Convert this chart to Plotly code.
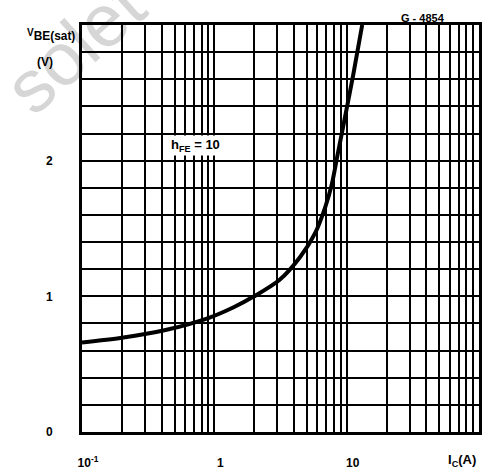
import plotly.graph_objects as go

# Collector current (A) and VBE(sat) (V)
ic = [0.1, 0.2, 0.42, 0.9, 1.4, 2.0, 3.1, 4.45, 5.8, 6.9, 7.7, 8.6, 9.4, 11.2, 13.1]
vbe = [0.66, 0.695, 0.75, 0.84, 0.92, 1.0, 1.12, 1.29, 1.47, 1.66, 1.82, 2.06, 2.25, 2.63, 3.0]

# log grid positions and labels
x_ticks = [m * d for d in (0.1, 1, 10) for m in range(1, 10)] + [100]
x_labels = ["10<sup>-1</sup>" if v == 0.1 else ("1" if v == 1 else ("10" if v == 10 else "")) for v in x_ticks]
y_ticks = [round(i * 0.2, 1) for i in range(16)]
y_labels = [str(int(v)) if v in (0, 1, 2) else "" for v in y_ticks]

FONT = "Liberation Sans"

fig = go.Figure()
fig.add_trace(go.Scatter(x=ic, y=vbe, mode="lines",
                         line=dict(color="black", width=4, shape="spline", smoothing=0.8),
                         hoverinfo="skip", showlegend=False))

fig.update_layout(
    width=492, height=475,
    margin=dict(l=82, r=13, t=25, b=43, autoexpand=False),
    paper_bgcolor="white", plot_bgcolor="white",
    font=dict(family=FONT, color="black"),
    xaxis=dict(type="log", range=[-1, 2], tickvals=x_ticks, ticktext=x_labels,
               showgrid=True, gridcolor="black", gridwidth=2,
               showline=True, linecolor="black", linewidth=3, mirror=True,
               ticks="", zeroline=False, ticklabelstandoff=18, ticklabelshift=6,
               automargin=False,
               tickfont=dict(family=FONT, size=12, color="black", weight="bold")),
    yaxis=dict(range=[0, 3], tickvals=y_ticks, ticktext=y_labels,
               showgrid=True, gridcolor="black", gridwidth=2,
               showline=True, linecolor="black", linewidth=3, mirror=True,
               ticks="", zeroline=False, ticklabelstandoff=24, automargin=False,
               tickfont=dict(family=FONT, size=12, color="black", weight="bold")),
    shapes=[dict(type="rect", xref="paper", yref="paper", x0=-0.30, x1=0.24, y0=0.82, y1=1.10,
                 line=dict(width=0), fillcolor="rgba(0,0,0,0)", layer="below",
                 label=dict(text="solet", textangle=-42, textposition="middle center",
                            font=dict(family=FONT, size=74, color="#d6d6d6")))],
    annotations=[
        dict(text="<b>G - 4854</b>", xref="paper", yref="paper", x=0.859, y=1.018,
             xanchor="center", yanchor="middle", showarrow=False, font=dict(size=11)),
        dict(text="<b><span style='font-size:10px'>V</span><sub>BE(sat)</sub></b>",
             xref="paper", yref="paper", x=-0.012, y=0.975,
             xanchor="right", yanchor="middle", showarrow=False, font=dict(size=17)),
        dict(text="<b>(V)</b>", xref="paper", yref="paper", x=-0.093, y=0.91,
             xanchor="center", yanchor="middle", showarrow=False, font=dict(size=12)),
        dict(text="<b>I<sub>C</sub>(A)</b>", xref="paper", yref="paper", x=0.957, y=-0.069,
             xanchor="center", yanchor="middle", showarrow=False, font=dict(size=13)),
        dict(text="<b>h<sub>FE</sub> = 10</b>", xref="paper", yref="paper", x=0.287, y=0.703,
             xanchor="center", yanchor="middle", showarrow=False, font=dict(size=13),
             bgcolor="white"),
    ],
)

fig.write_html("out.html", config={"displayModeBar": False},
               post_script="document.body.style.margin='0';")
